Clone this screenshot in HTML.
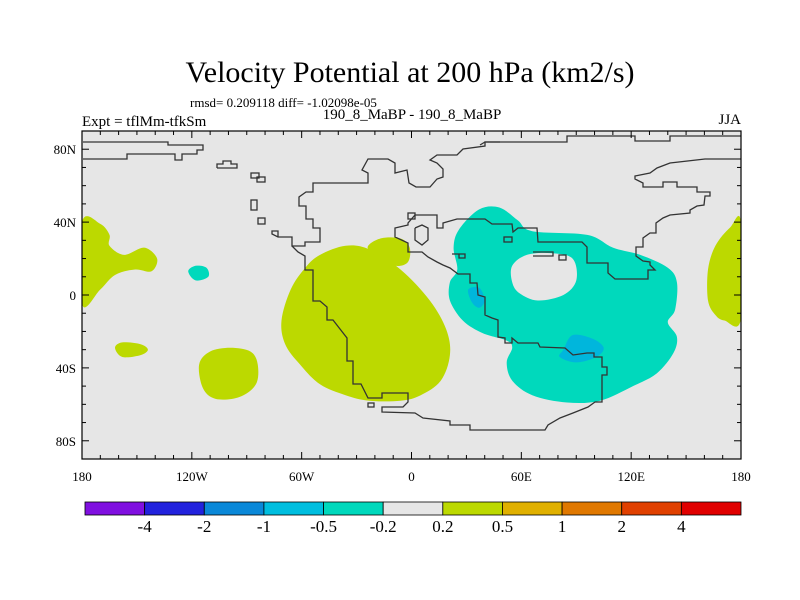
<!DOCTYPE html>
<html><head><meta charset="utf-8"><style>
html,body{margin:0;padding:0;background:#fff}
svg{display:block;font-family:"Liberation Serif",serif}
</style></head><body>
<svg id="chart" width="800" height="600" viewBox="0 0 800 600">
<text x="410" y="82" text-anchor="middle" font-size="30">Velocity Potential at 200 hPa (km2/s)</text>
<text x="190" y="107" font-size="13">rmsd= 0.209118 diff= -1.02098e-05</text>
<text x="412" y="119" text-anchor="middle" font-size="15">190_8_MaBP - 190_8_MaBP</text>
<text x="82" y="126" font-size="15">Expt = tflMm-tfkSm</text>
<text x="741" y="124" text-anchor="end" font-size="15">JJA</text>
<defs><clipPath id="plotclip"><rect x="82" y="131" width="659" height="328"/></clipPath></defs>
<rect x="82" y="131" width="659" height="328" fill="#e6e6e6"/>
<g id="contours" clip-path="url(#plotclip)"></g>
<g clip-path="url(#plotclip)" fill="none" stroke="#333" stroke-width="1.3">
<polyline points="83,142 168,142 168,145 203,145 203,150 197,150 197,154 182,154 182,160 175,160 175,154 127,154 127,159 83,159"/>
<polyline points="217,168 237,168 237,164 231,164 231,161 223,161 223,164 217,164 217,168"/>
<rect x="251" y="173" width="8" height="5"/><rect x="257" y="177" width="8" height="5"/>
<rect x="251" y="200" width="6" height="10"/><rect x="258" y="218" width="7" height="6"/>
<rect x="368" y="403" width="6" height="4"/>
<rect x="504" y="237" width="8" height="5"/>
<rect x="408" y="213" width="7" height="6"/>
<polyline points="480,145 485,142 567,142 567,136 635,136 635,141 670,141 670,136 741,136"/>
<polyline points="500,142 485,142 485,146 463,149 457,155 437,155 430,160 437,163 443,169 443,177 437,179 430,187 416,187 409,183 407,170 395,173 395,163 388,159 368,159 362,170 368,173 368,183 313,183 313,192 306,192 299,197 299,206 306,206 306,219 313,219 313,228 320,228 320,242 305,242 305,246 292,246 292,237 278,237 272,234 272,231 278,231 278,237"/>
<polyline points="292,246 298,252 305,256 305,270 313,270 313,301 320,301 327,307 327,320 333,320 340,329 347,338 347,361 353,361 353,384 361,384 368,398 382,398 382,393 408,393 408,402 403,407 382,407 382,412 415,413 423,418 450,421 450,425 470,425 470,430 545,430 548,425 560,418 573,413 588,407 595,402 602,402 602,375 607,375 607,367 602,367 602,357 594,357 594,353 587,353 573,355 565,348 540,347 538,343 518,343 512,338 512,343 505,343 505,338 498,337 498,320 492,318 485,315 485,297 478,295 477,283 470,283 470,274 458,274 450,268 443,265 437,262 428,257 422,252 408,252 408,243 395,237 395,228 408,225 408,223 415,215 423,215 437,215 437,228 443,228 443,223 457,219 463,219 485,219 492,224 512,224 513,232 518,228 537,228 538,242 582,242 587,247 587,263 608,263 608,273 615,279 648,279 648,270 655,270 650,265 650,262 643,261 636,256 636,247 643,247 643,238 650,233 656,233 656,223 663,218 670,215 690,213 690,210 697,206 704,205 705,196 710,196 710,192 697,192 697,187 677,187 677,182 663,182 663,187 643,187 643,183 635,179 635,176 650,173 657,168 670,163 705,159 741,159"/>
<polyline points="415,228 422,225 428,228 428,240 422,245 415,240 415,228"/>
<polyline points="452,254 459,254 459,258 465,258 465,254 452,254"/>
<polyline points="533,252 553,252 553,256 533,256"/><rect x="559" y="255" width="7" height="5"/>
</g>
<rect x="82" y="131" width="659" height="328" fill="none" stroke="#000" stroke-width="1.2"/>
<g id="ticks" stroke="#000" stroke-width="1"></g>
<g id="ticklabels" font-size="13"></g>
<g id="colorbar"></g>
</svg>
<script>
// contour regions (lon, lat) and their contour level class
const regionLevels = ['pos', 'pos', 'pos', 'pos', 'neg1', 'pos', 'pos', 'neg1', 'hole', 'neg2', 'neg2'];
const regionNames = ['west-pacific-positive', 'east-pacific-positive', 'small-south-pacific-positive', 'south-pacific-positive', 'east-pacific-negative', 'atlantic-positive', 'north-atlantic-positive', 'indian-ocean-negative', 'asia-neutral-hole', 'africa-negative-core', 'indian-negative-core'];
const regionPolys = [
 [[-180,40],[-170,39],[-165,33],[-165,27],[-157,22],[-146,26],[-139,20],[-142,13],[-151,14],[-162,11],[-170,3],[-180,-5]],
 [[180,40],[174,37],[166,27],[162,14],[162,-3],[166,-11],[171,-14],[180,-13]],
 [[-162,-29],[-158,-26],[-148,-27],[-144,-30],[-148,-33],[-158,-34]],
 [[-116,-38],[-110,-31],[-99,-29],[-88,-31],[-84,-38],[-85,-49],[-94,-56],[-107,-57],[-114,-51]],
 [[-122,13],[-118,16],[-112,15],[-111,10],[-118,8]],
 [[-71,-14],[-66,3],[-58,15],[-50,22],[-36,27],[-23,25],[-6,14],[10,-3],[19,-19],[21,-33],[16,-47],[5,-55],[-6,-58],[-23,-58],[-36,-55],[-50,-49],[-61,-38],[-69,-27]],
 [[-24,26],[-17,31],[-6,31],[-1,26],[-2,18],[-9,16],[-17,20]],
 [[37,47],[48,48],[58,41],[66,35],[96,33],[110,26],[125,22],[140,15],[145,7],[144,-8],[140,-15],[145,-23],[143,-32],[134,-43],[121,-50],[103,-58],[85,-59],[66,-55],[55,-47],[52,-37],[55,-29],[52,-25],[39,-21],[28,-14],[21,-3],[21,7],[25,14],[23,26],[26,36]],
 [[55,16],[63,22],[76,23],[88,20],[90,8],[83,0],[69,-3],[59,1],[55,7]],
 [[31,3],[37,4],[40,-3],[37,-7],[33,-4]],
 [[83,-30],[88,-22],[99,-24],[105,-29],[101,-34],[90,-37],[81,-34]]
];
const lonTicks = [-180,-120,-60,0,60,120,180];
const lonLabels = ['180','120W','60W','0','60E','120E','180'];
const latTicks = [80,40,0,-40,-80];
const latLabels = ['80N','40N','0','40S','80S'];
const cbLabels = ['-4','-2','-1','-0.5','-0.2','0.2','0.5','1','2','4'];
const cbColors = ['#8010e0','#2222dd','#0a88d8','#00bedf','#00d8bc','#e6e6e6','#bcd900','#e0b000','#e07800','#e04000','#e00000'];

const NS='http://www.w3.org/2000/svg';
const X0=82,W=659,Y0=131,H=328;
const X = lon => X0 + (lon+180)*W/360;
const Y = lat => Y0 + (90-lat)*H/180;
const fillFor = {pos:'#bcd900', neg1:'#00d9bc', neg2:'#00b6dc', hole:'#e6e6e6'};
function smoothPath(pts){
  const p = pts.map(q=>[X(q[0]),Y(q[1])]);
  const n=p.length; let d='';
  for(let i=0;i<n;i++){
    const a=p[(i-1+n)%n], b=p[i], c=p[(i+1)%n], e=p[(i+2)%n];
    if(i===0) d+='M'+b[0].toFixed(1)+','+b[1].toFixed(1);
    const c1=[b[0]+(c[0]-a[0])/6, b[1]+(c[1]-a[1])/6];
    const c2=[c[0]-(e[0]-b[0])/6, c[1]-(e[1]-b[1])/6];
    d+='C'+c1.map(v=>v.toFixed(1)).join(',')+' '+c2.map(v=>v.toFixed(1)).join(',')+' '+c.map(v=>v.toFixed(1)).join(',');
  }
  return d+'Z';
}
const cg=document.getElementById('contours');
regionPolys.forEach((poly,i)=>{
  const path=document.createElementNS(NS,'path');
  path.setAttribute('d', smoothPath(poly));
  path.setAttribute('fill', fillFor[regionLevels[i]]);
  
  
  cg.appendChild(path);
});
const tg=document.getElementById('ticks');
function line(x1,y1,x2,y2){const l=document.createElementNS(NS,'line');l.setAttribute('x1',x1);l.setAttribute('y1',y1);l.setAttribute('x2',x2);l.setAttribute('y2',y2);tg.appendChild(l);}
for(let lon=-180;lon<=180;lon+=10){
  const major = lon%60===0, len = major?7:4;
  line(X(lon),Y0,X(lon),Y0+len); line(X(lon),Y0+H,X(lon),Y0+H-len);
}
for(let lat=-90;lat<=90;lat+=10){
  const major = lat%40===0, len = major?7:4;
  line(X0,Y(lat),X0+len,Y(lat)); line(X0+W,Y(lat),X0+W-len,Y(lat));
}
const lg=document.getElementById('ticklabels');
lonTicks.forEach((lon,i)=>{
  const t=document.createElementNS(NS,'text');
  t.setAttribute('x',X(lon)); t.setAttribute('y',481); t.setAttribute('text-anchor','middle');
  t.textContent=lonLabels[i];
  
  
  lg.appendChild(t);
});
latTicks.forEach((lat,i)=>{
  const t=document.createElementNS(NS,'text');
  t.setAttribute('x',76); t.setAttribute('y',Y(lat)+5); t.setAttribute('text-anchor','end');
  t.textContent=latLabels[i];
  
  
  lg.appendChild(t);
});
const cb=document.getElementById('colorbar');
const cbX=85, cbW=656, cbY=502, cbH=13, bw=cbW/cbColors.length;
cbColors.forEach((c,i)=>{
  const r=document.createElementNS(NS,'rect');
  r.setAttribute('x',cbX+i*bw); r.setAttribute('y',cbY); r.setAttribute('width',bw); r.setAttribute('height',cbH);
  r.setAttribute('fill',c); r.setAttribute('stroke','#000'); r.setAttribute('stroke-width','0.8');
  
  
  cb.appendChild(r);
});
cbLabels.forEach((s,i)=>{
  const t=document.createElementNS(NS,'text');
  t.setAttribute('x',cbX+(i+1)*bw); t.setAttribute('y',532); t.setAttribute('text-anchor','middle'); t.setAttribute('font-size','17');
  t.textContent=s;
  
  
  cb.appendChild(t);
});
</script>
</body></html>
